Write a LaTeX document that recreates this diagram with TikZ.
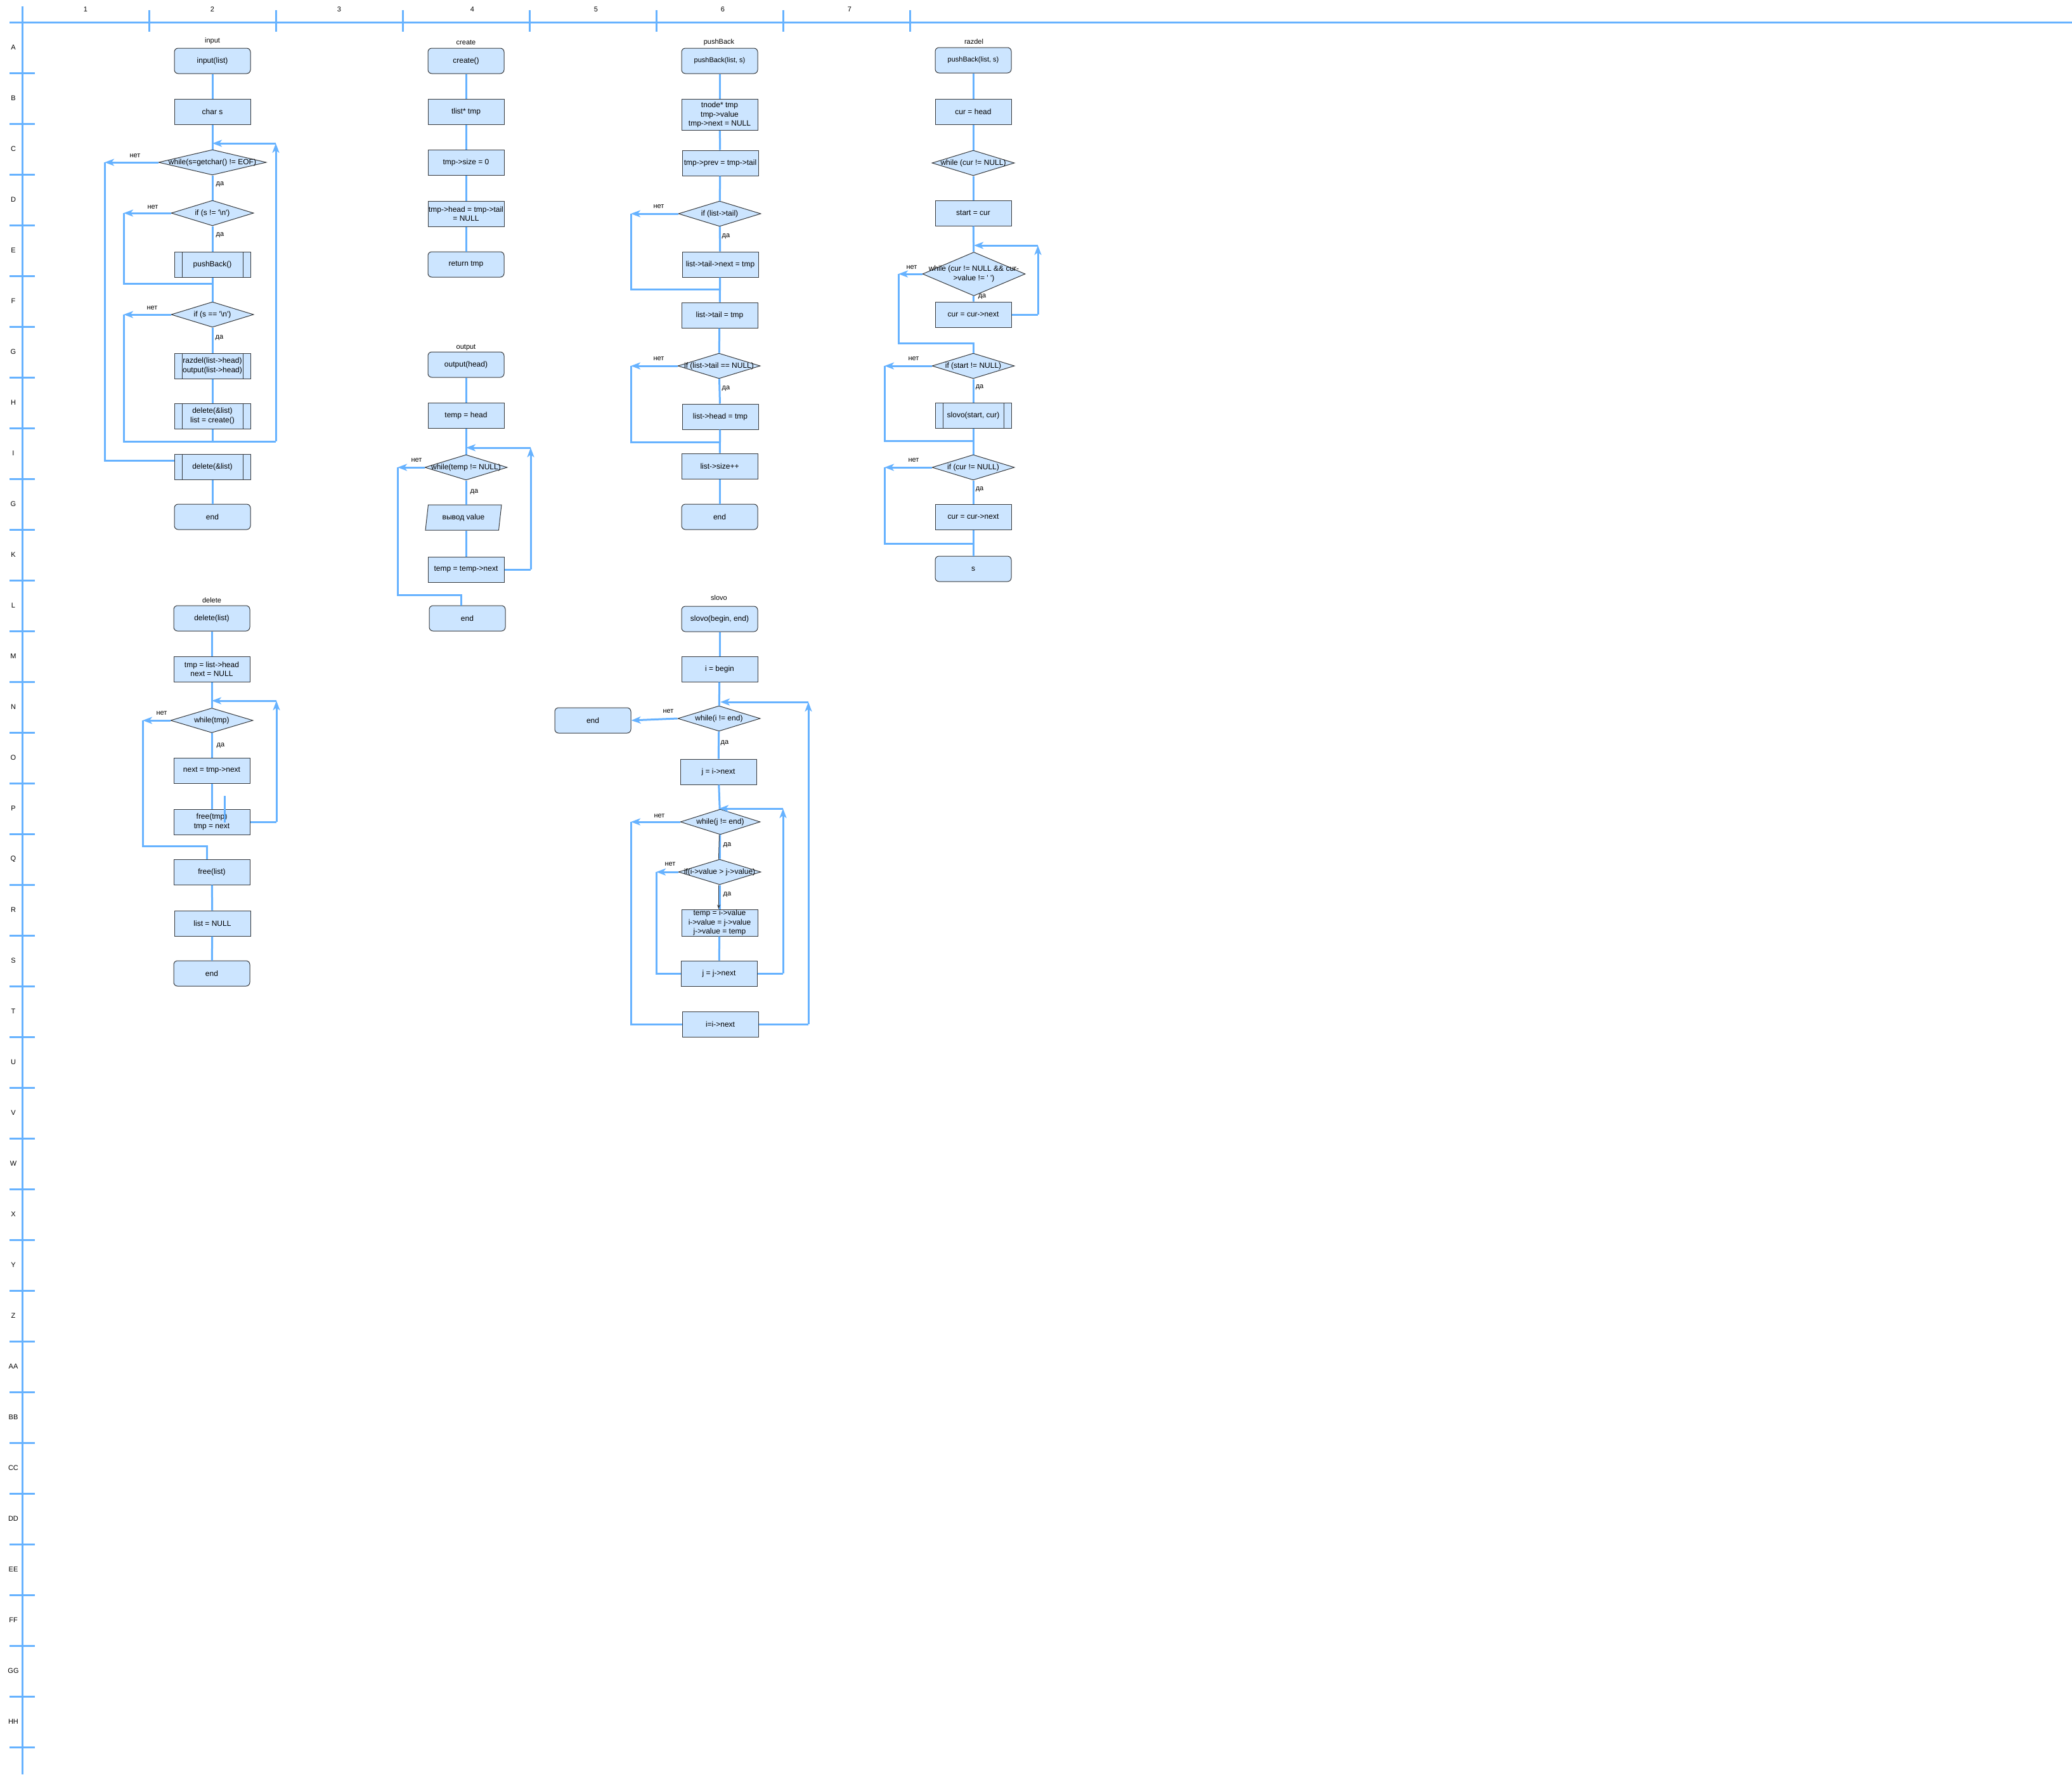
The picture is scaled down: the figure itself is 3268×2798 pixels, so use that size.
\documentclass[tikz,border=0pt]{standalone}
\usepackage{fontspec}
\setmainfont{Liberation Sans}
\usetikzlibrary{shapes.geometric, arrows.meta}

\definecolor{edgeline}{HTML}{66B2FF}
\definecolor{boxfill}{HTML}{CCE5FF}
\definecolor{boxline}{HTML}{36393D}
\newcommand{\chnl}{\textquotesingle\textbackslash n\textquotesingle}

\begin{document}
\begin{tikzpicture}[x=1pt, y=-1pt, >={Stealth[length=15pt, width=11pt, inset=4pt]},
  font=\fontsize{12}{14.4}\selectfont,
  blk/.style={draw=boxline, fill=boxfill, line width=1pt, minimum width=120pt,
    minimum height=40pt, inner sep=1pt, align=center},
  startstop/.style={blk, rounded corners=6pt},
  process/.style={blk},
  subproc/.style={blk, path picture={
    \draw[boxline, line width=1pt]
      ([xshift=12pt]path picture bounding box.north west) -- ([xshift=12pt]path picture bounding box.south west)
      ([xshift=-12pt]path picture bounding box.north east) -- ([xshift=-12pt]path picture bounding box.south east);}},
  decision/.style={blk, diamond, inner sep=0pt, minimum width=130pt},
  inout/.style={blk, trapezium, trapezium left angle=68, trapezium right angle=112,
    trapezium stretches body, inner sep=0pt},
  flow/.style={draw=edgeline, line width=3pt},
  thin/.style={draw=boxline, line width=1pt},
  yesno/.style={font=\fontsize{11}{13}\selectfont, inner sep=0pt},
  fname/.style={font=\fontsize{11}{13}\selectfont, inner sep=0pt},
  small/.style={font=\fontsize{11}{13}\selectfont},
  axis/.style={draw=edgeline, line width=3pt},
  rulerlab/.style={font=\fontsize{11}{13}\selectfont, inner sep=0pt},
]
\fill[white] (0,0) rectangle (3268,2798);
\useasboundingbox (0,0) rectangle (3268,2798);

% Ruler
\draw[axis] (15,35) -- (3268,35);
\draw[axis] (35,10) -- (35,2798);
\foreach \i in {1,...,7}
  \draw[axis] ({35+200*\i},16) -- ({35+200*\i},50);
\foreach \i in {1,...,34}
  \draw[axis] (15,{35+80*\i}) -- (55,{35+80*\i});
\foreach \x [count=\i] in {135,335,535,745,940,1140,1340}
  \node[rulerlab] (col\i) at (\x,15) {\i};
\foreach \r [count=\i] in {A,B,C,D,E,F,G,H,I,G,K,L,M,N,O,P,Q,R,S,T,U,V,W,X,Y,Z,AA,BB,CC,DD,EE,FF,GG,HH}
  \node[rulerlab] (row\i) at (21,{75+80*(\i-1)}) {\r};

% input
\node[fname] (inT) at (335,65) {input};
\node[startstop] (in1) at (335,96) {input(list)};
\node[process] (in2) at (335,176) {char s};
\node[decision, minimum width=170pt, label={center:{while(s=getchar() != EOF)}}] (in3) at (335,256) {};
\node[decision, label={center:{if (s != \chnl)}}] (in4) at (335,336) {};
\node[subproc] (in5) at (335,417) {pushBack()};
\node[decision, label={center:{if (s == \chnl)}}] (in6) at (335,496) {};
\node[subproc] (in7) at (335,577) {razdel(list->head)\\output(list->head)};
\node[subproc] (in8) at (335,656) {delete(\&list)\\list = create()};
\node[subproc] (in9) at (335,736) {delete(\&list)};
\node[startstop] (in10) at (335,815) {end};

\node[yesno] (inN1) at (213,246) {нет};
\node[yesno] (inY1) at (347,291) {да};
\node[yesno] (inN2) at (241,327) {нет};
\node[yesno] (inY2) at (347,371) {да};
\node[yesno] (inN3) at (240,486) {нет};
\node[yesno] (inY3) at (346,533) {да};

\coordinate (inA) at (335,226);
\coordinate (inB) at (435,226);
\coordinate (inC) at (435,696);
\coordinate (inD) at (335,696);
\coordinate (inE) at (165,256);
\coordinate (inF) at (195,336);
\coordinate (inG) at (335,447);
\coordinate (inH) at (195,496);

\draw[flow] (in1) -- (in2);
\draw[flow] (in2) -- (in3);
\draw[flow] (in3) -- (in4);
\draw[flow] (in4) -- (in5);
\draw[flow] (in5) -- (in6);
\draw[flow] (in6) -- (in7);
\draw[flow] (in7) -- (in8);
\draw[flow] (in8) -- (inD) -- (inC);
\draw[flow,->] (inC) -- (inB);
\draw[flow,->] (inB) -- (inA);
\draw[flow,->] (in3.west) -- (inE);
\draw[flow] (inE) |- ([yshift=10pt]in9.west);
\draw[flow,->] (in4.west) -- (inF);
\draw[flow] (inF) |- (inG);
\draw[flow,->] (in6.west) -- (inH);
\draw[flow] (inH) |- (inD);
\draw[flow] (in9) -- (in10);

% create
\node[fname] (crT) at (735,67) {create};
\node[startstop] (cr1) at (735,96) {create()};
\node[process] (cr2) at (735,176) {tlist* tmp};
\node[process] (cr3) at (735,256) {tmp->size = 0};
\node[process] (cr4) at (735,337) {tmp->head = tmp->tail\\= NULL};
\node[startstop] (cr5) at (735,417) {return tmp};

\draw[flow] (cr1) -- (cr2);
\draw[flow] (cr2) -- (cr3);
\draw[flow] (cr3) -- (cr4);
\draw[flow] (cr4) -- (cr5);

% output
\node[fname] (ouT) at (735,548) {output};
\node[startstop] (ou1) at (735,575) {output(head)};
\node[process] (ou2) at (735,655) {temp = head};
\node[decision, label={center:{while(temp != NULL)}}] (ou3) at (735,737) {};
\node[inout] (ou4) at (731,816) {вывод value};
\node[process] (ou5) at (735,898) {temp = temp->next};
\node[startstop] (ou6) at (737,975) {end};

\node[yesno] (ouN1) at (657,726) {нет};
\node[yesno] (ouY1) at (748,776) {да};

\coordinate (ouA) at (735,706);
\coordinate (ouB) at (837,706);
\coordinate (ouC) at (837,898);
\coordinate (ouE) at (627,737);
\coordinate (ouF) at (727,938);

\draw[flow] (ou1) -- (ou2);
\draw[flow] (ou2) -- (ou3);
\draw[flow] (ou3.south) -- (ou3.south |- ou4.north);
\draw[flow] (ou4.south -| ou5.north) -- (ou5.north);
\draw[flow] (ou5.east) -- (ouC);
\draw[flow,->] (ouC) -- (ouB);
\draw[flow,->] (ouB) -- (ouA);
\draw[flow,->] (ou3.west) -- (ouE);
\draw[flow] (ouE) |- (ouF) -- (ouF |- ou6.north);

% pushBack
\node[fname] (pbT) at (1134,67) {pushBack};
\node[startstop, small] (pb1) at (1135,96) {pushBack(list, s)};
\node[process, minimum height=49pt] (pb2) at (1135,181) {tnode* tmp\\tmp->value\\tmp->next = NULL};
\node[process] (pb3) at (1136,257) {tmp->prev = tmp->tail};
\node[decision, label={center:{if (list->tail)}}] (pb4) at (1135,337) {};
\node[process] (pb5) at (1136,417) {list->tail->next = tmp};
\node[process] (pb6) at (1135,497) {list->tail = tmp};
\node[decision, label={center:{if (list->tail == NULL)}}] (pb7) at (1134,577) {};
\node[process] (pb8) at (1136,657) {list->head = tmp};
\node[process] (pb9) at (1135,735) {list->size++};
\node[startstop] (pb10) at (1135,815) {end};

\node[yesno] (pbN1) at (1039,326) {нет};
\node[yesno] (pbY1) at (1145,373) {да};
\node[yesno] (pbN2) at (1039,566) {нет};
\node[yesno] (pbY2) at (1145,613) {да};

\coordinate (pbE) at (995,337);
\coordinate (pbG) at (1136,456);
\coordinate (pbH) at (995,577);
\coordinate (pbI) at (1136,697);

\draw[flow] (pb1) -- (pb2);
\draw[flow] (pb2) -- (pb3);
\draw[flow] (pb3) -- (pb4);
\draw[flow] (pb4) -- (pb5);
\draw[flow] (pb5) -- (pb6);
\draw[flow] (pb6) -- (pb7);
\draw[flow] (pb7) -- (pb8);
\draw[flow] (pb8) -- (pb9);
\draw[flow] (pb9) -- (pb10);
\draw[flow,->] (pb4.west) -- (pbE);
\draw[flow] (pbE) |- (pbG);
\draw[flow,->] (pb7.west) -- (pbH);
\draw[flow] (pbH) |- (pbI);

% razdel
\node[fname] (rzT) at (1536,66) {razdel};
\node[startstop, small] (rz1) at (1535,95) {pushBack(list, s)};
\node[process] (rz2) at (1535,176) {cur = head};
\node[decision, label={center:{while (cur != NULL)}}] (rz3) at (1535,257) {};
\node[process] (rz4) at (1535,336) {start = cur};
\node[decision, minimum width=162pt, minimum height=69pt,
  label={[align=center]center:{while (cur != NULL \&\& cur-\\>value != \textquotesingle\ \textquotesingle)}}] (rz5) at (1536,432) {};
\node[process] (rz6) at (1535,496) {cur = cur->next};
\node[decision, label={center:{if (start != NULL)}}] (rz7) at (1535,577) {};
\node[subproc] (rz8) at (1535,655) {slovo(start, cur)};
\node[decision, label={center:{if (cur != NULL)}}] (rz9) at (1535,737) {};
\node[process] (rz10) at (1535,815) {cur = cur->next};
\node[startstop] (rz11) at (1535,897) {s};

\node[yesno] (rzN1) at (1438,422) {нет};
\node[yesno] (rzY1) at (1549,468) {да};
\node[yesno] (rzN2) at (1441,566) {нет};
\node[yesno] (rzY2) at (1545,611) {да};
\node[yesno] (rzN3) at (1441,726) {нет};
\node[yesno] (rzY3) at (1545,772) {да};

\coordinate (rzA) at (1536,387);
\coordinate (rzB) at (1637,387);
\coordinate (rzC) at (1637,496);
\coordinate (rzE) at (1417,432);
\coordinate (rzF) at (1535,541);
\coordinate (rzG) at (1395,577);
\coordinate (rzH) at (1535,695);
\coordinate (rzI) at (1395,737);
\coordinate (rzJ) at (1535,857);

\draw[flow] (rz1) -- (rz2);
\draw[flow] (rz2) -- (rz3);
\draw[flow] (rz3) -- (rz4);
\draw[flow] (rz4) -- (rz5);
\draw[flow] (rz5) -- (rz6);
\draw[flow] (rz6.east) -- (rzC);
\draw[flow,->] (rzC) -- (rzB);
\draw[flow,->] (rzB) -- (rzA);
\draw[flow,->] (rz5.west) -- (rzE);
\draw[flow] (rzE) |- (rzF) -- (rz7.north);
\draw[flow] (rz7) -- (rz8);
\draw[flow] (rz8) -- (rz9);
\draw[flow,->] (rz7.west) -- (rzG);
\draw[flow] (rzG) |- (rzH);
\draw[flow] (rz9) -- (rz10);
\draw[flow] (rz10) -- (rz11);
\draw[flow,->] (rz9.west) -- (rzI);
\draw[flow] (rzI) |- (rzJ);

% delete
\node[fname] (dlT) at (334,947) {delete};
\node[startstop] (dl1) at (334,975) {delete(list)};
\node[process] (dl2) at (334,1055) {tmp = list->head\\next = NULL};
\node[decision, minimum height=39pt, label={center:{while(tmp)}}] (dl3) at (334,1136) {};
\node[process] (dl4) at (334,1215) {next = tmp->next};
\node[process] (dl5) at (334,1296) {free(tmp)\\tmp = next};
\node[process] (dl6) at (334,1375) {free(list)};
\node[process] (dl7) at (335,1456) {list = NULL};
\node[startstop] (dl8) at (334,1535) {end};

\node[yesno] (dlN1) at (255,1125) {нет};
\node[yesno] (dlY1) at (348,1176) {да};

\coordinate (dlA) at (334,1105);
\coordinate (dlB) at (436,1105);
\coordinate (dlC) at (436,1296);
\coordinate (dlE) at (225,1136);
\coordinate (dlF) at (326,1334);
\coordinate (dlS) at (354,1255);
\coordinate (dlT2) at (354,1297);

\draw[flow] (dl1) -- (dl2);
\draw[flow] (dl2) -- (dl3);
\draw[flow] (dl3) -- (dl4);
\draw[flow] (dl4) -- (dl5);
\draw[flow] (dl5.east) -- (dlC);
\draw[flow,->] (dlC) -- (dlB);
\draw[flow,->] (dlB) -- (dlA);
\draw[flow,->] (dl3.west) -- (dlE);
\draw[flow] (dlE) |- (dlF) -- (dlF |- dl6.north);
\draw[flow] (dlS) -- (dlT2);
\draw[flow] (dl6) -- (dl7);
\draw[flow] (dl7) -- (dl8);

% slovo
\node[fname] (slT) at (1134,943) {slovo};
\node[startstop] (sl1) at (1135,976) {slovo(begin, end)};
\node[process] (sl2) at (1135,1055) {i = begin};
\node[decision, label={center:{while(i != end)}}] (sl3) at (1134,1133) {};
\node[startstop] (slEnd) at (935,1136) {end};
\node[process] (sl4) at (1133,1217) {j = i->next};
\node[decision, minimum width=126pt, label={center:{while(j != end)}}] (sl5) at (1136,1296) {};
\node[decision, label={center:{if(i->value > j->value)}}] (sl6) at (1135,1375) {};
\node[process] (sl7) at (1135,1455) {temp = i->value\\i->value = j->value\\j->value = temp};
\node[process] (sl8) at (1134,1535) {j = j->next};
\node[process] (sl9) at (1136,1615) {i=i->next};

\node[yesno] (slN1) at (1054,1122) {нет};
\node[yesno] (slY1) at (1143,1172) {да};
\node[yesno] (slN2) at (1040,1287) {нет};
\node[yesno] (slY2) at (1147,1333) {да};
\node[yesno] (slN3) at (1057,1363) {нет};
\node[yesno] (slY3) at (1147,1411) {да};

\coordinate (slA) at (1134,1275);
\coordinate (slB) at (1235,1275);
\coordinate (slC) at (1235,1535);
\coordinate (slE) at (995,1296);
\coordinate (slF) at (1035,1375);
\coordinate (slG) at (1275,1615);
\coordinate (slH) at (1275,1107);
\coordinate (slI) at (1136,1107);

\draw[flow] (sl1) -- (sl2);
\draw[flow] (sl2) -- (sl3);
\draw[flow,->] (sl3.west) -- (slEnd.east);
\draw[flow] (sl3) -- (sl4);
\draw[flow] (sl4) -- (sl5);
\draw[flow] (sl5) -- (sl6);
\draw[thin] ([xshift=-1.5pt]sl5.south) -- ([xshift=-1.5pt]sl6.north);
\draw[flow] (sl6) -- (sl7);
\draw[thin, -{Stealth[length=7pt, width=5pt]}] ([xshift=-1.5pt]sl6.south) -- ([xshift=-1.5pt]sl7.north);
\draw[flow] (sl7) -- (sl8);
\draw[flow] (sl8.east) -- (slC);
\draw[flow,->] (slC) -- (slB);
\draw[flow,->] (slB) -- (slA);
\draw[flow,->] (sl5.west) -- (slE);
\draw[flow] (slE) |- (sl9.west);
\draw[flow,->] (sl6.west) -- (slF);
\draw[flow] (slF) |- (sl8.west);
\draw[flow] (sl9.east) -- (slG);
\draw[flow,->] (slG) -- (slH);
\draw[flow,->] (slH) -- (slI);

\end{tikzpicture}
\end{document}
